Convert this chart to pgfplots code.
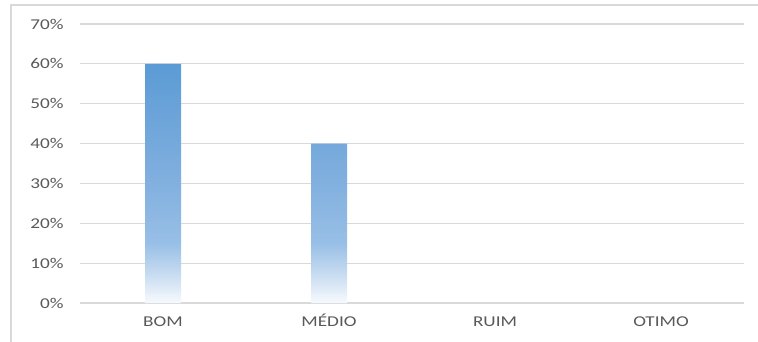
\documentclass[border=0pt]{standalone}
\usepackage{fontspec}
\setmainfont{Carlito}[FakeStretch=1.28]
\usepackage{pgfplots}
\pgfplotsset{compat=1.18}
\definecolor{gridc}{HTML}{D9D9D9}
\definecolor{txt}{HTML}{595959}
\definecolor{blueT}{HTML}{5B9BD5}
\definecolor{blueM}{HTML}{82B0DF}
\definecolor{blueL}{HTML}{98BFE6}
\definecolor{blueXL}{HTML}{C8DCF1}
\definecolor{blueW}{HTML}{F7FAFD}
\pgfdeclareverticalshading{barfade}{100bp}{color(0bp)=(blueW); color(25bp)=(blueW); color(31bp)=(blueXL); color(37.5bp)=(blueL); color(50bp)=(blueM); color(75bp)=(blueT); color(100bp)=(blueT)}
\begin{document}
\begin{tikzpicture}[x=1bp,y=1bp]
\useasboundingbox (0,0) rectangle (758,341);
\begin{scope}
\clip (0,0) rectangle (758,341);
\draw[gridc, line width=1.2bp] (11,-20) rectangle (780,336);
\end{scope}
\begin{axis}[
  at={(80bp,38bp)}, anchor=south west,
  scale only axis, width=664bp, height=279bp,
  xmin=-0.5, xmax=3.5, ymin=0, ymax=70,
  xtick={0,1,2,3}, xticklabels={BOM,MÉDIO,RUIM,OTIMO},
  ytick={0,10,...,70},
  yticklabel={\pgfmathprintnumber{\tick}\%},
  /pgf/number format/assume math mode=true,
  axis line style={draw=none},
  major tick length=0pt,
  ymajorgrids,
  major grid style={gridc, line width=1.2bp},
  tick label style={font=\fontsize{15bp}{17bp}\selectfont, text=txt},
  yticklabel style={xshift=-13bp},
  xticklabel style={anchor=base, text height=11bp, text depth=3bp, yshift=-23bp},
  clip=false,
]
\addplot[ybar, bar width=36bp, draw=none, shading=barfade] coordinates {(0,60) (1,40)};
\addplot[ybar, bar width=36bp, draw=none, fill=none] coordinates {(2,0) (3,0)};
\end{axis}
\end{tikzpicture}
\end{document}
